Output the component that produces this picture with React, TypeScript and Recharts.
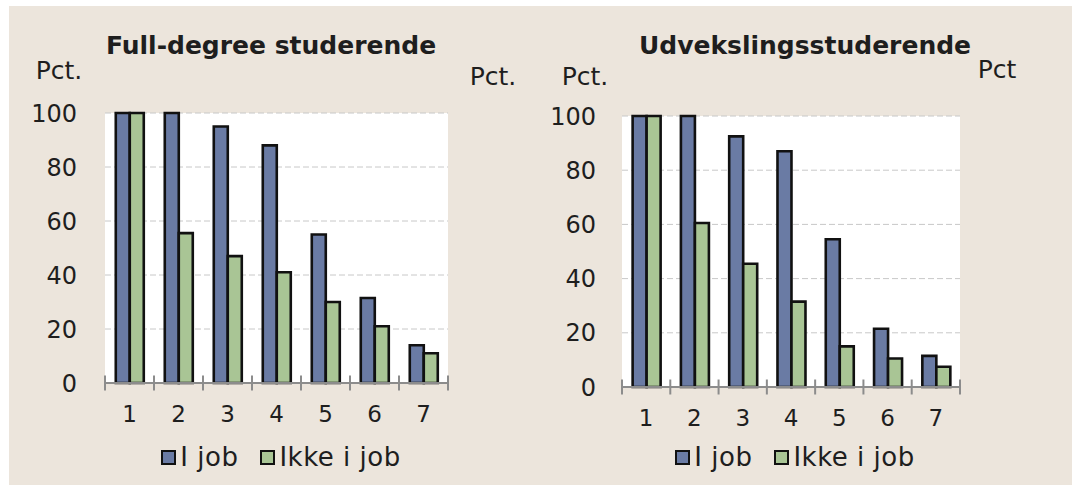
import { BarChart, Bar, XAxis, YAxis, CartesianGrid, Legend } from 'recharts';

const categories = ['1', '2', '3', '4', '5', '6', '7'];
const seriesNames = ['I job', 'Ikke i job'];

const fullDegreeIJob = [100, 100, 95, 88, 55, 31.5, 14];
const fullDegreeIkke = [100, 55.5, 47, 41, 30, 21, 11];
const udvekslingIJob = [100, 100, 92.5, 87, 54.5, 21.5, 11.5];
const udvekslingIkke = [100, 60.5, 45.5, 31.5, 15, 10.5, 7.5];

const yTicks = [0, 20, 40, 60, 80, 100];

const COLORS = ['#6a7ba4', '#a9c595'];
const FONT = '"DejaVu Sans", Verdana, sans-serif';
const TEXT = '#1e1e1e';

const buildRows = (a: number[], b: number[]) =>
    categories.map((c, i) => ({ cat: c, iJob: a[i], ikke: b[i] }));

const CategoryTick = (props: any) => {
    const { x, y, payload, index, visibleTicksCount, width } = props;
    const half = payload.offset ?? width / visibleTicksCount / 2;
    const last = index === visibleTicksCount - 1;
    return (
        <g>
            <line x1={x - half} x2={x - half} y1={y - 7.5} y2={y + 7.5} stroke="#8c8c8c" strokeWidth={2} />
            {last && <line x1={x + half} x2={x + half} y1={y - 7.5} y2={y + 7.5} stroke="#8c8c8c" strokeWidth={2} />}
            <text x={x} y={y + 31} textAnchor="middle" dominantBaseline="central" fill={TEXT} fontSize={23} fontFamily={FONT}>
                {payload.value}
            </text>
        </g>
    );
};

const LegendContent = () => (
    <div style={{ display: 'flex', justifyContent: 'center', alignItems: 'center', gap: 22, height: 40, fontFamily: FONT, fontSize: 26, color: TEXT, letterSpacing: 0.5 }}>
        {seriesNames.map((n, i) => (
            <span key={n} style={{ display: 'flex', alignItems: 'center' }}>
                <span style={{ width: 11, height: 11, background: COLORS[i], border: '2.5px solid #111', marginRight: 4 }} />
                {n}
            </span>
        ))}
    </div>
);

type PanelProps = {
    left: number;
    data: { cat: string; iJob: number; ikke: number }[];
    top: number;
    xAxisHeight: number;
    yLeftWidth: number;
    yRightWidth: number;
    leftGap: number;
    rightGap: number;
    legendLeft: number;
    legendWidth: number;
};

const Panel = ({ left, data, top, xAxisHeight, yLeftWidth, yRightWidth, leftGap, rightGap, legendLeft, legendWidth }: PanelProps) => (
    <div style={{ position: 'absolute', left, top: 0 }}>
        <BarChart width={536} height={488} data={data} margin={{ top, right: 0, bottom: 11, left: 0 }} barCategoryGap="22%" barGap={0}>
            <CartesianGrid yAxisId="l" vertical={false} stroke="#c8c8c8" strokeDasharray="6 3" fill="#ffffff" />
            <XAxis
                dataKey="cat"
                height={xAxisHeight}
                stroke="#8c8c8c"
                strokeWidth={2}
                tickLine={false}
                tickSize={0}
                tickMargin={0}
                tick={<CategoryTick />}
                interval={0}
            />
            <YAxis
                yAxisId="l"
                domain={[0, 100]}
                ticks={yTicks}
                width={yLeftWidth}
                axisLine={false}
                tickLine={false}
                tickSize={0}
                tickMargin={leftGap}
                tick={{ fill: TEXT, fontSize: 24, fontFamily: FONT }}
            />
            <YAxis
                yAxisId="r"
                orientation="right"
                domain={[0, 100]}
                ticks={yTicks}
                width={yRightWidth}
                axisLine={false}
                tickLine={false}
                tickSize={0}
                tickMargin={rightGap}
                tick={{ fill: TEXT, fontSize: 24, fontFamily: FONT, textAnchor: 'start' }}
            />
            <Bar yAxisId="l" dataKey="iJob" name={seriesNames[0]} fill={COLORS[0]} stroke="#111" strokeWidth={2.6} isAnimationActive={false} />
            <Bar yAxisId="l" dataKey="ikke" name={seriesNames[1]} fill={COLORS[1]} stroke="#111" strokeWidth={2.6} isAnimationActive={false} />
            <Legend verticalAlign="bottom" height={40} content={<LegendContent />} wrapperStyle={{ left: legendLeft, width: legendWidth }} />
        </BarChart>
    </div>
);

const Label = ({ text, x, y, bold, size = 25 }: { text: string; x: number; y: number; bold?: boolean; size?: number }) => (
    <div style={{ position: 'absolute', left: x - 200, top: y, width: 400, textAlign: 'center', fontFamily: FONT, fontSize: size, lineHeight: `${size}px`, fontWeight: bold ? 700 : 400, color: TEXT, whiteSpace: 'nowrap' }}>
        {text}
    </div>
);

export default function App() {
    return (
        <div style={{ position: 'absolute', left: 0, top: 0, width: 1072, height: 488, background: '#ffffff', overflow: 'hidden' }}>
            <div style={{ position: 'absolute', left: 9, top: 6, width: 1063, height: 479, background: '#ece5dc' }} />
            <Panel
                left={0}
                data={buildRows(fullDegreeIJob, fullDegreeIkke)}
                top={113}
                xAxisHeight={54}
                yLeftWidth={105}
                yRightWidth={88}
                leftGap={28}
                rightGap={25}
                legendLeft={26}
                legendWidth={510}
            />
            <Panel
                left={536}
                data={buildRows(udvekslingIJob, udvekslingIkke)}
                top={116}
                xAxisHeight={50}
                yLeftWidth={86}
                yRightWidth={112}
                leftGap={26}
                rightGap={27}
                legendLeft={0}
                legendWidth={518}
            />
            <Label text="Full-degree studerende" x={271} y={33} bold />
            <Label text="Udvekslingsstuderende" x={805} y={33} bold />
            <Label text="Pct." x={59} y={58} />
            <Label text="Pct." x={493} y={64} />
            <Label text="Pct." x={585} y={64} />
            <Label text="Pct" x={997} y={57} />
        </div>
    );
}
